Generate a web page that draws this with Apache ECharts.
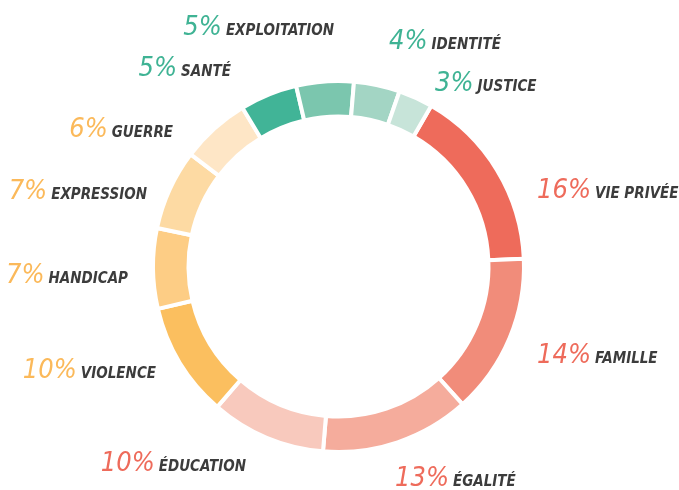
<!DOCTYPE html>
<html>
<head>
<meta charset="utf-8">
<script src="https://cdn.jsdelivr.net/npm/echarts@6/dist/echarts.min.js"></script>
<style>
  html, body { margin: 0; padding: 0; background: #fff; }
  #chart { width: 679px; height: 490px; }
</style>
</head>
<body>
<div id="chart"></div>
<script>
// donut data, clockwise from "vie privée"
const categories = ["VIE PRIVÉE", "FAMILLE", "ÉGALITÉ", "ÉDUCATION", "VIOLENCE", "HANDICAP",
  "EXPRESSION", "GUERRE", "SANTÉ", "EXPLOITATION", "IDENTITÉ", "JUSTICE"];
const values = [16, 14, 13, 10, 10, 7, 7, 6, 5, 5, 4, 3];
const groups = ["red", "red", "red", "red", "orange", "orange", "orange", "orange",
  "teal", "teal", "teal", "teal"];

// styles
const sliceColors = ["#EE6B5B", "#F18C7A", "#F5AC9C", "#F8C9BD", "#FBBF5F", "#FDCD85",
  "#FDDAA3", "#FEE6C6", "#41B497", "#7BC6AE", "#A3D5C4", "#C7E4D9"];
const pctColors = { red: "#EE6B5B", orange: "#FBB95A", teal: "#3FB394" };
// label anchor: x, text baseline y, alignment
const labelAnchors = [
  [537, 200, "left"], [537, 365, "left"], [395, 488, "left"], [246, 473, "right"],
  [156, 380, "right"], [128, 285, "right"], [147, 201, "right"], [173, 139, "right"],
  [231, 78, "right"], [334, 37, "right"], [389, 51, "left"], [435, 93, "left"]
];

const font = "'DejaVu Sans Condensed', 'Liberation Sans Narrow', sans-serif";
const chart = echarts.init(document.getElementById("chart"));

const rich = { n: { fontFamily: font, fontSize: 15, fontWeight: "bold", fontStyle: "italic",
  color: "#3C3C3C", verticalAlign: "bottom", padding: [0, 0, 3, 4] } };
Object.keys(pctColors).forEach(function (k) {
  rich[k] = { fontFamily: font, fontSize: 27, fontStyle: "italic", color: pctColors[k],
    verticalAlign: "bottom" };
});

chart.setOption({
  animation: false,
  series: [
    {
      type: "pie",
      center: [338.5, 266.5],
      radius: [150, 185.5],
      startAngle: 60,
      clockwise: true,
      avoidLabelOverlap: false,
      itemStyle: { borderColor: "#fff", borderWidth: 4 },
      label: {
        show: true,
        position: "outside",
        formatter: function (p) {
          return "{" + groups[p.dataIndex] + "|" + p.value + "%}{n|" + p.name + "}";
        },
        rich: rich
      },
      labelLine: { show: false },
      labelLayout: function (params) {
        const a = labelAnchors[params.dataIndex];
        return { x: a[0], y: a[1] - 9, align: a[2], verticalAlign: "middle" };
      },
      emphasis: { disabled: true },
      data: categories.map(function (c, i) {
        return { name: c, value: values[i], itemStyle: { color: sliceColors[i] } };
      })
    }
  ]
});
</script>
</body>
</html>
